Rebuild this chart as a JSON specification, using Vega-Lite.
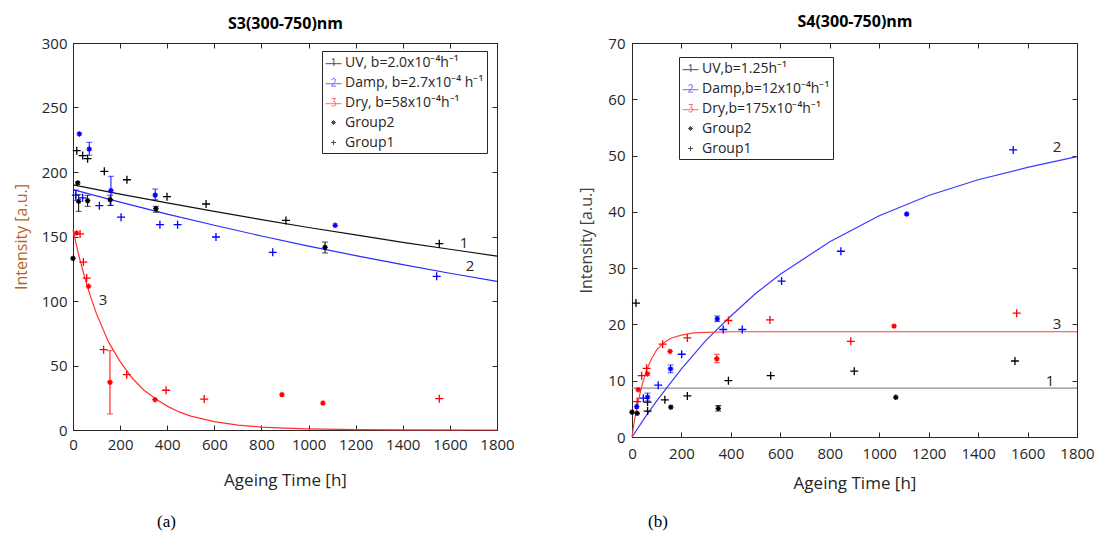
{
  "$schema": "https://vega.github.io/schema/vega-lite/v6.json",
  "padding": {"left": 12, "top": 13, "right": 5, "bottom": 5},
  "datasets": {
    "s3pts": [
      {"t": 16, "y": 216.5, "s": "1", "g": "Group1"},
      {"t": 41, "y": 212.7, "s": "1", "g": "Group1"},
      {"t": 62, "y": 210.3, "s": "1", "g": "Group1"},
      {"t": 133, "y": 200.5, "s": "1", "g": "Group1"},
      {"t": 229, "y": 194, "s": "1", "g": "Group1"},
      {"t": 399, "y": 180.9, "s": "1", "g": "Group1"},
      {"t": 565, "y": 175.2, "s": "1", "g": "Group1"},
      {"t": 904, "y": 162.5, "s": "1", "g": "Group1"},
      {"t": 1555, "y": 144.4, "s": "1", "g": "Group1"},
      {"t": 12, "y": 182, "s": "2", "g": "Group1", "lo": 178, "hi": 186},
      {"t": 41, "y": 180, "s": "2", "g": "Group1"},
      {"t": 112, "y": 173.9, "s": "2", "g": "Group1"},
      {"t": 204, "y": 165, "s": "2", "g": "Group1"},
      {"t": 369, "y": 159.2, "s": "2", "g": "Group1"},
      {"t": 444, "y": 159.2, "s": "2", "g": "Group1"},
      {"t": 607, "y": 149.6, "s": "2", "g": "Group1"},
      {"t": 848, "y": 137.7, "s": "2", "g": "Group1"},
      {"t": 1544, "y": 119.1, "s": "2", "g": "Group1"},
      {"t": 30, "y": 152, "s": "3", "g": "Group1"},
      {"t": 44, "y": 130.2, "s": "3", "g": "Group1"},
      {"t": 58, "y": 117.8, "s": "3", "g": "Group1"},
      {"t": 130, "y": 62.3, "s": "3", "g": "Group1"},
      {"t": 228, "y": 42.9, "s": "3", "g": "Group1"},
      {"t": 395, "y": 30.8, "s": "3", "g": "Group1"},
      {"t": 557, "y": 24, "s": "3", "g": "Group1"},
      {"t": 1555, "y": 24.3, "s": "3", "g": "Group1"},
      {"t": 0, "y": 133, "s": "1", "g": "Group2"},
      {"t": 20, "y": 191.5, "s": "1", "g": "Group2"},
      {"t": 24, "y": 177.3, "s": "1", "g": "Group2", "lo": 169.5, "hi": 182.4},
      {"t": 62, "y": 177.8, "s": "1", "g": "Group2", "lo": 173.4, "hi": 181.9},
      {"t": 158, "y": 178.5, "s": "1", "g": "Group2", "lo": 174, "hi": 182},
      {"t": 352, "y": 171.6, "s": "1", "g": "Group2", "lo": 168.8, "hi": 173.4},
      {"t": 1070, "y": 141.6, "s": "1", "g": "Group2", "lo": 137.2, "hi": 145.7},
      {"t": 27, "y": 229.5, "s": "2", "g": "Group2"},
      {"t": 69, "y": 217.8, "s": "2", "g": "Group2", "lo": 213, "hi": 223},
      {"t": 161, "y": 185.5, "s": "2", "g": "Group2", "lo": 174.2, "hi": 196.7},
      {"t": 349, "y": 182, "s": "2", "g": "Group2", "lo": 178.5, "hi": 186.8},
      {"t": 1113, "y": 158.7, "s": "2", "g": "Group2"},
      {"t": 15, "y": 152.7, "s": "3", "g": "Group2"},
      {"t": 66, "y": 111.4, "s": "3", "g": "Group2"},
      {"t": 157, "y": 37, "s": "3", "g": "Group2", "lo": 12.4, "hi": 61.5},
      {"t": 348, "y": 23.5, "s": "3", "g": "Group2"},
      {"t": 887, "y": 27.5, "s": "3", "g": "Group2"},
      {"t": 1061, "y": 20.9, "s": "3", "g": "Group2"}
    ],
    "s3curves": [
      {"t": 0, "y": 190, "s": "1"}, {"t": 200, "y": 182.9, "s": "1"}, {"t": 400, "y": 176.1, "s": "1"},
      {"t": 600, "y": 169.5, "s": "1"}, {"t": 800, "y": 163.1, "s": "1"}, {"t": 1000, "y": 157.0, "s": "1"},
      {"t": 1200, "y": 151.2, "s": "1"}, {"t": 1400, "y": 145.5, "s": "1"}, {"t": 1600, "y": 140.1, "s": "1"},
      {"t": 1800, "y": 134.8, "s": "1"},
      {"t": 0, "y": 186.3, "s": "2"}, {"t": 200, "y": 176.6, "s": "2"}, {"t": 400, "y": 167.4, "s": "2"},
      {"t": 600, "y": 158.7, "s": "2"}, {"t": 800, "y": 150.4, "s": "2"}, {"t": 1000, "y": 142.6, "s": "2"},
      {"t": 1200, "y": 135.2, "s": "2"}, {"t": 1400, "y": 128.2, "s": "2"}, {"t": 1600, "y": 121.5, "s": "2"},
      {"t": 1800, "y": 115.2, "s": "2"},
      {"t": 0, "y": 155, "s": "3"}, {"t": 25, "y": 135, "s": "3"}, {"t": 50, "y": 118, "s": "3"},
      {"t": 75, "y": 103, "s": "3"}, {"t": 100, "y": 90, "s": "3"}, {"t": 150, "y": 68.5, "s": "3"},
      {"t": 200, "y": 53, "s": "3"}, {"t": 250, "y": 40.5, "s": "3"}, {"t": 300, "y": 31, "s": "3"},
      {"t": 360, "y": 23, "s": "3"}, {"t": 400, "y": 18.5, "s": "3"}, {"t": 450, "y": 14, "s": "3"},
      {"t": 500, "y": 10.8, "s": "3"}, {"t": 600, "y": 6.5, "s": "3"}, {"t": 700, "y": 3.8, "s": "3"},
      {"t": 800, "y": 2.3, "s": "3"}, {"t": 900, "y": 1.4, "s": "3"}, {"t": 1000, "y": 0.8, "s": "3"},
      {"t": 1200, "y": 0.3, "s": "3"}, {"t": 1400, "y": 0.1, "s": "3"}, {"t": 1800, "y": 0, "s": "3"}
    ],
    "s3labels": [
      {"t": 1660, "y": 145, "label": "1"},
      {"t": 1685, "y": 127, "label": "2"},
      {"t": 127, "y": 100.8, "label": "3"}
    ],
    "s4pts": [
      {"t": 16, "y": 23.8, "s": "1", "g": "Group1"},
      {"t": 63, "y": 6.2, "s": "1", "g": "Group1"},
      {"t": 63, "y": 4.6, "s": "1", "g": "Group1"},
      {"t": 133, "y": 6.6, "s": "1", "g": "Group1"},
      {"t": 224, "y": 7.3, "s": "1", "g": "Group1"},
      {"t": 390, "y": 10.0, "s": "1", "g": "Group1"},
      {"t": 561, "y": 10.9, "s": "1", "g": "Group1"},
      {"t": 899, "y": 11.7, "s": "1", "g": "Group1"},
      {"t": 1549, "y": 13.5, "s": "1", "g": "Group1"},
      {"t": 46, "y": 6.9, "s": "2", "g": "Group1"},
      {"t": 106, "y": 9.2, "s": "2", "g": "Group1"},
      {"t": 201, "y": 14.7, "s": "2", "g": "Group1"},
      {"t": 369, "y": 19.1, "s": "2", "g": "Group1"},
      {"t": 446, "y": 19.1, "s": "2", "g": "Group1"},
      {"t": 605, "y": 27.7, "s": "2", "g": "Group1"},
      {"t": 845, "y": 33.0, "s": "2", "g": "Group1"},
      {"t": 1542, "y": 51.0, "s": "2", "g": "Group1"},
      {"t": 21, "y": 6.3, "s": "3", "g": "Group1"},
      {"t": 39, "y": 10.9, "s": "3", "g": "Group1"},
      {"t": 59, "y": 12.2, "s": "3", "g": "Group1"},
      {"t": 124, "y": 16.5, "s": "3", "g": "Group1"},
      {"t": 224, "y": 17.6, "s": "3", "g": "Group1"},
      {"t": 390, "y": 20.7, "s": "3", "g": "Group1"},
      {"t": 558, "y": 20.8, "s": "3", "g": "Group1"},
      {"t": 885, "y": 17.0, "s": "3", "g": "Group1"},
      {"t": 1556, "y": 22.0, "s": "3", "g": "Group1"},
      {"t": 0, "y": 4.4, "s": "1", "g": "Group2"},
      {"t": 21, "y": 4.2, "s": "1", "g": "Group2"},
      {"t": 157, "y": 5.3, "s": "1", "g": "Group2"},
      {"t": 349, "y": 5.1, "s": "1", "g": "Group2", "lo": 4.6, "hi": 5.6},
      {"t": 1067, "y": 7.05, "s": "1", "g": "Group2"},
      {"t": 19, "y": 5.4, "s": "2", "g": "Group2"},
      {"t": 63, "y": 7.1, "s": "2", "g": "Group2", "lo": 6.4, "hi": 7.8},
      {"t": 156, "y": 12.1, "s": "2", "g": "Group2", "lo": 11.4, "hi": 12.8},
      {"t": 345, "y": 21.0, "s": "2", "g": "Group2", "lo": 20.5, "hi": 21.5},
      {"t": 1111, "y": 39.6, "s": "2", "g": "Group2"},
      {"t": 25, "y": 8.4, "s": "3", "g": "Group2"},
      {"t": 63, "y": 11.2, "s": "3", "g": "Group2"},
      {"t": 154, "y": 15.2, "s": "3", "g": "Group2"},
      {"t": 343, "y": 13.9, "s": "3", "g": "Group2", "lo": 13.2, "hi": 14.7},
      {"t": 1060, "y": 19.7, "s": "3", "g": "Group2"}
    ],
    "s4curves": [
      {"t": 0, "y": 8.7, "s": "1"}, {"t": 1800, "y": 8.7, "s": "1"},
      {"t": 0, "y": 0, "s": "2"}, {"t": 50, "y": 3.3, "s": "2"}, {"t": 100, "y": 6.4, "s": "2"},
      {"t": 200, "y": 12.1, "s": "2"}, {"t": 300, "y": 17.2, "s": "2"}, {"t": 400, "y": 21.5, "s": "2"},
      {"t": 500, "y": 25.5, "s": "2"}, {"t": 600, "y": 28.9, "s": "2"}, {"t": 800, "y": 34.7, "s": "2"},
      {"t": 1000, "y": 39.3, "s": "2"}, {"t": 1200, "y": 42.9, "s": "2"}, {"t": 1400, "y": 45.7, "s": "2"},
      {"t": 1600, "y": 47.9, "s": "2"}, {"t": 1800, "y": 49.8, "s": "2"},
      {"t": 0, "y": 0, "s": "3"}, {"t": 10, "y": 3.0, "s": "3"}, {"t": 20, "y": 5.3, "s": "3"},
      {"t": 30, "y": 7.3, "s": "3"}, {"t": 40, "y": 9.1, "s": "3"}, {"t": 50, "y": 10.6, "s": "3"},
      {"t": 60, "y": 12.0, "s": "3"}, {"t": 80, "y": 14.0, "s": "3"}, {"t": 100, "y": 15.5, "s": "3"},
      {"t": 130, "y": 16.8, "s": "3"}, {"t": 160, "y": 17.6, "s": "3"}, {"t": 200, "y": 18.1, "s": "3"},
      {"t": 250, "y": 18.5, "s": "3"}, {"t": 300, "y": 18.6, "s": "3"}, {"t": 400, "y": 18.7, "s": "3"},
      {"t": 1800, "y": 18.7, "s": "3"}
    ],
    "s4labels": [
      {"t": 1719, "y": 51.5, "label": "2"},
      {"t": 1719, "y": 20.1, "label": "3"},
      {"t": 1691, "y": 9.95, "label": "1"}
    ],
    "legS3": [
      {"leg": "UV, b=2.0x10⁻⁴h⁻¹"},
      {"leg": "Damp, b=2.7x10⁻⁴ h⁻¹"},
      {"leg": "Dry, b=58x10⁻⁴h⁻¹"},
      {"leg": "Group2"},
      {"leg": "Group1"}
    ],
    "legS4": [
      {"leg": "UV,b=1.25h⁻¹"},
      {"leg": "Damp,b=12x10⁻⁴h⁻¹"},
      {"leg": "Dry,b=175x10⁻⁴h⁻¹"},
      {"leg": "Group2"},
      {"leg": "Group1"}
    ]
  },
  "spacing": 63,
  "hconcat": [
    {
      "width": 424,
      "height": 387,
      "title": {"text": "(a)", "orient": "bottom", "anchor": "start", "frame": "group", "dx": 84, "offset": 26, "font": "Liberation Serif", "fontSize": 17, "fontWeight": "normal", "color": "#000000"},
      "resolve": {"scale": {"color": "independent", "shape": "independent", "size": "independent"}, "axis": {"x": "independent", "y": "independent"}},
      "layer": [
        {
          "data": {"name": "s3curves"},
          "mark": {"type": "line", "strokeWidth": 1.2},
          "encoding": {
            "x": {"field": "t", "type": "quantitative", "scale": {"domain": [0, 1800], "nice": false}, "axis": {"orient": "bottom", "values": [0, 200, 400, 600, 800, 1000, 1200, 1400, 1600, 1800], "format": "d", "title": "Ageing Time [h]", "labelPadding": 12, "titlePadding": 20, "titleFontSize": 17}},
            "y": {"field": "y", "type": "quantitative", "scale": {"domain": [0, 300], "nice": false}, "axis": {"orient": "left", "values": [0, 50, 100, 150, 200, 250, 300], "format": "d", "title": "Intensity [a.u.]", "titleColor": "#b8651b", "labelPadding": 11, "titlePadding": 12, "titleFontSize": 16}},
            "color": {"field": "s", "type": "nominal", "scale": {"domain": ["1", "2", "3"], "range": ["#111111", "#2b2bff", "#ff3030"]}, "legend": null}
          }
        },
        {
          "data": {"name": "s3pts"},
          "transform": [{"filter": "isValid(datum.lo)"}],
          "mark": {"type": "errorbar", "ticks": {"size": 6}, "thickness": 1},
          "encoding": {
            "x": {"field": "t", "type": "quantitative", "axis": null},
            "y": {"field": "lo", "type": "quantitative", "axis": null},
            "y2": {"field": "hi"},
            "color": {"field": "s", "type": "nominal", "scale": {"domain": ["1", "2", "3"], "range": ["#000000", "#0000ff", "#ff0000"]}, "legend": null}
          }
        },
        {
          "data": {"name": "s3pts"},
          "mark": {"type": "point", "filled": false, "strokeWidth": 1.3, "opacity": 1},
          "encoding": {
            "x": {"field": "t", "type": "quantitative", "axis": null},
            "y": {"field": "y", "type": "quantitative", "axis": null},
            "color": {"field": "s", "type": "nominal", "scale": {"domain": ["1", "2", "3"], "range": ["#000000", "#0000ff", "#ff0000"]}, "legend": null},
            "shape": {"field": "g", "type": "nominal", "scale": {"domain": ["Group1", "Group2"], "range": ["M-1,0H1M0,-1V1", "M-1,0H1M0,-1V1M-0.7,-0.7L0.7,0.7M-0.7,0.7L0.7,-0.7"]}, "legend": null},
            "size": {"field": "g", "type": "nominal", "scale": {"domain": ["Group1", "Group2"], "range": [64, 30]}, "legend": null}
          }
        },
        {
          "data": {"name": "s3labels"},
          "mark": {"type": "text", "fontSize": 15, "color": "#262626", "align": "center", "baseline": "middle"},
          "encoding": {
            "x": {"field": "t", "type": "quantitative", "axis": {"orient": "top", "labels": false, "values": [0, 200, 400, 600, 800, 1000, 1200, 1400, 1600, 1800], "title": "S3(300-750)nm", "titleFontWeight": "bold", "titleFontSize": 16, "titlePadding": 11, "titleColor": "#000000"}},
            "y": {"field": "y", "type": "quantitative", "axis": {"orient": "right", "labels": false, "values": [0, 50, 100, 150, 200, 250, 300], "title": null}},
            "text": {"field": "label"}
          }
        },
        {
          "data": {"name": "legS3"},
          "transform": [{"filter": "false"}],
          "mark": {"type": "point", "filled": false, "strokeWidth": 1},
          "encoding": {
            "color": {"field": "leg", "type": "nominal", "scale": {"domain": ["UV, b=2.0x10⁻⁴h⁻¹", "Damp, b=2.7x10⁻⁴ h⁻¹", "Dry, b=58x10⁻⁴h⁻¹", "Group2", "Group1"], "range": ["#000000", "#2b2bff", "#ff3030", "#000000", "#000000"]},
              "legend": {"title": null, "orient": "none", "legendX": 249, "legendY": 8, "strokeColor": "#262626", "fillColor": "white", "padding": 3, "symbolSize": 256, "symbolStrokeWidth": 1, "labelFontSize": 14, "labelColor": "#262626", "rowPadding": 4, "labelOffset": 3, "labelLimit": 300}},
            "shape": {"field": "leg", "type": "nominal", "scale": {"domain": ["UV, b=2.0x10⁻⁴h⁻¹", "Damp, b=2.7x10⁻⁴ h⁻¹", "Dry, b=58x10⁻⁴h⁻¹", "Group2", "Group1"], "range": [
              "M-1,0.15H1M-0.2,-0.35L0.05,-0.5V0.45",
              "M-1,0.15H1M-0.25,-0.3Q-0.15,-0.5 0.03,-0.5Q0.25,-0.5 0.25,-0.28Q0.25,-0.1 -0.25,0.45H0.3",
              "M-1,0.15H1M-0.22,-0.5H0.25L0,-0.12Q0.3,-0.1 0.3,0.17Q0.28,0.45 0,0.45Q-0.15,0.45 -0.25,0.37",
              "M-0.3,0H0.3M0,-0.3V0.3M-0.21,-0.21L0.21,0.21M-0.21,0.21L0.21,-0.21",
              "M-0.3,0H0.3M0,-0.3V0.3"]},
              "legend": {"title": null, "orient": "none", "legendX": 249, "legendY": 8, "strokeColor": "#262626", "fillColor": "white", "padding": 3, "symbolSize": 256, "symbolStrokeWidth": 1, "labelFontSize": 14, "labelColor": "#262626", "rowPadding": 4, "labelOffset": 3, "labelLimit": 300}}
          }
        }
      ]
    },
    {
      "width": 445,
      "height": 394,
      "title": {"text": "(b)", "orient": "bottom", "anchor": "start", "frame": "group", "dx": 16, "offset": 23, "font": "Liberation Serif", "fontSize": 17, "fontWeight": "normal", "color": "#000000"},
      "resolve": {"scale": {"color": "independent", "shape": "independent", "size": "independent"}, "axis": {"x": "independent", "y": "independent"}},
      "layer": [
        {
          "data": {"name": "s4curves"},
          "mark": {"type": "line", "strokeWidth": 1.2},
          "encoding": {
            "x": {"field": "t", "type": "quantitative", "scale": {"domain": [0, 1800], "nice": false}, "axis": {"orient": "bottom", "values": [0, 200, 400, 600, 800, 1000, 1200, 1400, 1600, 1800], "format": "d", "title": "Ageing Time [h]", "labelPadding": 14, "titlePadding": 14, "titleFontSize": 17}},
            "y": {"field": "y", "type": "quantitative", "scale": {"domain": [0, 70], "nice": false}, "axis": {"orient": "left", "values": [0, 10, 20, 30, 40, 50, 60, 70], "format": "d", "title": "Intensity [a.u.]", "titleColor": "#404040", "labelPadding": 12, "titlePadding": 13, "titleFontSize": 16}},
            "color": {"field": "s", "type": "nominal", "scale": {"domain": ["1", "2", "3"], "range": ["#8c8c8c", "#3a3aff", "#ff4040"]}, "legend": null}
          }
        },
        {
          "data": {"name": "s4pts"},
          "transform": [{"filter": "isValid(datum.lo)"}],
          "mark": {"type": "errorbar", "ticks": {"size": 6}, "thickness": 1},
          "encoding": {
            "x": {"field": "t", "type": "quantitative", "axis": null},
            "y": {"field": "lo", "type": "quantitative", "axis": null},
            "y2": {"field": "hi"},
            "color": {"field": "s", "type": "nominal", "scale": {"domain": ["1", "2", "3"], "range": ["#000000", "#0000ff", "#ff0000"]}, "legend": null}
          }
        },
        {
          "data": {"name": "s4pts"},
          "mark": {"type": "point", "filled": false, "strokeWidth": 1.3, "opacity": 1},
          "encoding": {
            "x": {"field": "t", "type": "quantitative", "axis": null},
            "y": {"field": "y", "type": "quantitative", "axis": null},
            "color": {"field": "s", "type": "nominal", "scale": {"domain": ["1", "2", "3"], "range": ["#000000", "#0000ff", "#ff0000"]}, "legend": null},
            "shape": {"field": "g", "type": "nominal", "scale": {"domain": ["Group1", "Group2"], "range": ["M-1,0H1M0,-1V1", "M-1,0H1M0,-1V1M-0.7,-0.7L0.7,0.7M-0.7,0.7L0.7,-0.7"]}, "legend": null},
            "size": {"field": "g", "type": "nominal", "scale": {"domain": ["Group1", "Group2"], "range": [64, 30]}, "legend": null}
          }
        },
        {
          "data": {"name": "s4labels"},
          "mark": {"type": "text", "fontSize": 15, "color": "#262626", "align": "center", "baseline": "middle"},
          "encoding": {
            "x": {"field": "t", "type": "quantitative", "axis": {"orient": "top", "labels": false, "values": [0, 200, 400, 600, 800, 1000, 1200, 1400, 1600, 1800], "title": "S4(300-750)nm", "titleFontWeight": "bold", "titleFontSize": 16, "titlePadding": 13, "titleColor": "#000000"}},
            "y": {"field": "y", "type": "quantitative", "axis": {"orient": "right", "labels": false, "values": [0, 10, 20, 30, 40, 50, 60, 70], "title": null}},
            "text": {"field": "label"}
          }
        },
        {
          "data": {"name": "legS4"},
          "transform": [{"filter": "false"}],
          "mark": {"type": "point", "filled": false, "strokeWidth": 1},
          "encoding": {
            "color": {"field": "leg", "type": "nominal", "scale": {"domain": ["UV,b=1.25h⁻¹", "Damp,b=12x10⁻⁴h⁻¹", "Dry,b=175x10⁻⁴h⁻¹", "Group2", "Group1"], "range": ["#000000", "#2b2bff", "#ff3030", "#000000", "#000000"]},
              "legend": {"title": null, "orient": "none", "legendX": 47, "legendY": 14, "strokeColor": "#262626", "fillColor": "white", "padding": 3, "symbolSize": 256, "symbolStrokeWidth": 1, "labelFontSize": 14, "labelColor": "#262626", "rowPadding": 4, "labelOffset": 3, "labelLimit": 300}},
            "shape": {"field": "leg", "type": "nominal", "scale": {"domain": ["UV,b=1.25h⁻¹", "Damp,b=12x10⁻⁴h⁻¹", "Dry,b=175x10⁻⁴h⁻¹", "Group2", "Group1"], "range": [
              "M-1,0.15H1M-0.2,-0.35L0.05,-0.5V0.45",
              "M-1,0.15H1M-0.25,-0.3Q-0.15,-0.5 0.03,-0.5Q0.25,-0.5 0.25,-0.28Q0.25,-0.1 -0.25,0.45H0.3",
              "M-1,0.15H1M-0.22,-0.5H0.25L0,-0.12Q0.3,-0.1 0.3,0.17Q0.28,0.45 0,0.45Q-0.15,0.45 -0.25,0.37",
              "M-0.3,0H0.3M0,-0.3V0.3M-0.21,-0.21L0.21,0.21M-0.21,0.21L0.21,-0.21",
              "M-0.3,0H0.3M0,-0.3V0.3"]},
              "legend": {"title": null, "orient": "none", "legendX": 47, "legendY": 14, "strokeColor": "#262626", "fillColor": "white", "padding": 3, "symbolSize": 256, "symbolStrokeWidth": 1, "labelFontSize": 14, "labelColor": "#262626", "rowPadding": 4, "labelOffset": 3, "labelLimit": 300}}
          }
        }
      ]
    }
  ],
  "config": {
    "font": "Open Sans",
    "view": {"stroke": "#262626", "strokeWidth": 1},
    "axis": {
      "grid": false,
      "domain": true,
      "domainColor": "#262626",
      "tickColor": "#262626",
      "labelColor": "#262626",
      "titleColor": "#262626",
      "labelFontSize": 15,
      "titleFontSize": 17,
      "titleFontWeight": "normal",
      "tickSize": -5,
      "labelPadding": 11,
      "labelFlush": false,
      "labelOverlap": false,
      "domainWidth": 1,
      "tickWidth": 1
    },
    "legend": {"labelFont": "Open Sans"}
  }
}
